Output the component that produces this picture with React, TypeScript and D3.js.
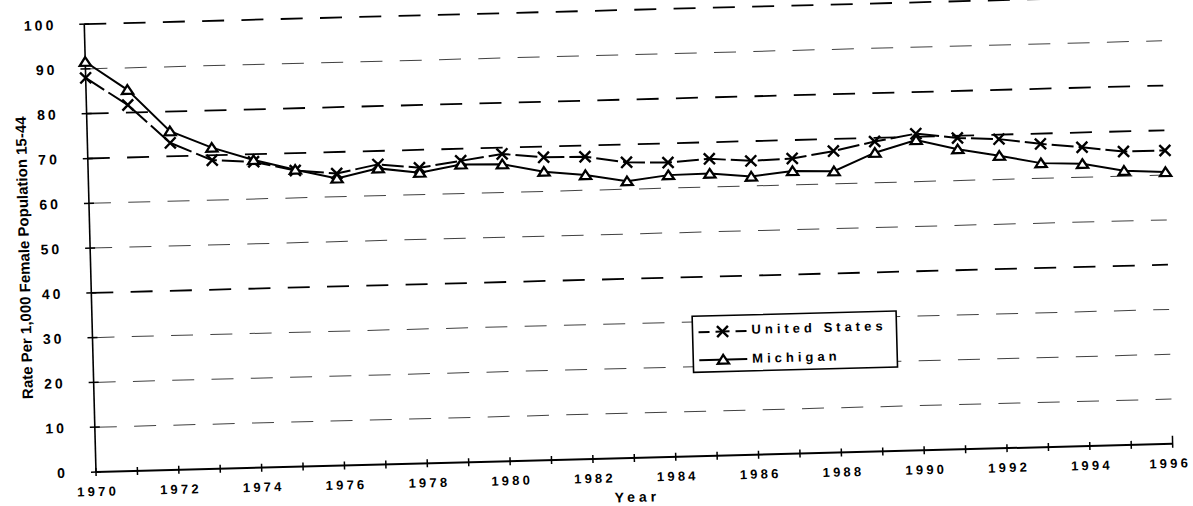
import React from 'react';
import * as d3 from 'd3';

// ---- data ----
const years = [1970, 1971, 1972, 1973, 1974, 1975, 1976, 1977, 1978, 1979, 1980, 1981, 1982, 1983, 1984, 1985, 1986, 1987, 1988, 1989, 1990, 1991, 1992, 1993, 1994, 1995, 1996];
const unitedStates = [88.0, 81.7, 73.0, 68.9, 68.3, 66.1, 65.2, 67.0, 66.0, 67.3, 68.6, 67.6, 67.5, 66.0, 65.7, 66.3, 65.6, 65.9, 67.3, 69.2, 70.7, 69.5, 69.0, 67.7, 66.7, 65.5, 65.5];
const michigan = [91.6, 85.1, 75.6, 71.7, 68.7, 66.3, 64.1, 66.1, 64.9, 66.5, 66.3, 64.4, 63.4, 61.8, 62.9, 63.0, 62.1, 63.1, 62.8, 66.7, 69.3, 67.0, 65.3, 63.4, 63.0, 61.2, 60.7];
const yTickValues = [0, 10, 20, 30, 40, 50, 60, 70, 80, 90, 100];
const xTickLabels = [1970, 1972, 1974, 1976, 1978, 1980, 1982, 1984, 1986, 1988, 1990, 1992, 1994, 1996];
const seriesNames = ['United States', 'Michigan'];
const yAxisTitle = 'Rate Per 1,000 Female Population 15-44';
const xAxisTitle = 'Year';

// ---- layout / style ----
const W = 1193;
const H = 506;
const ORIGIN_X = 96;
const ORIGIN_Y = 472;
const PLOT_W = 1077;
const PLOT_H = 448;
const TILT = -1.5; // scanned page is slightly rotated
const BOLD_GRID = new Set([40, 70, 80, 100]);
const FONT = '"Liberation Sans", Arial, Helvetica, sans-serif';

function XMark({ cx, cy }: { cx: number; cy: number }) {
  const s = 5.5;
  return (
    <path
      d={`M${cx - s},${cy - s}L${cx + s},${cy + s}M${cx - s},${cy + s}L${cx + s},${cy - s}`}
      stroke="#000"
      strokeWidth={2.4}
      fill="none"
    />
  );
}

function TriMark({ cx, cy }: { cx: number; cy: number }) {
  return (
    <path
      d={`M${cx},${cy - 4.6}L${cx + 5.6},${cy + 4}L${cx - 5.6},${cy + 4}Z`}
      stroke="#000"
      strokeWidth={2.3}
      strokeLinejoin="miter"
      fill="#fff"
    />
  );
}

export default function App() {
  const x = d3.scaleLinear().domain([1970, 1996]).range([0, PLOT_W]);
  const y = d3.scaleLinear().domain([0, 100]).range([0, -PLOT_H]);
  const lineGen = d3
    .line<number>()
    .x((_, i) => x(years[i]))
    .y((d) => y(d));

  const legendX = 600;
  const legendY = -140;
  const legendW = 204;
  const legendH = 56;

  return (
    <svg
      width={W}
      height={H}
      viewBox={`0 0 ${W} ${H}`}
      style={{ position: 'absolute', left: 0, top: 0, background: '#fff' }}
    >
      <rect x={0} y={0} width={W} height={H} fill="#fff" />
      <g transform={`translate(${ORIGIN_X},${ORIGIN_Y}) rotate(${TILT})`} fontFamily={FONT}>
        {/* gridlines */}
        {yTickValues
          .filter((v) => v > 0)
          .map((v) => (
            <line
              key={`g${v}`}
              x1={0}
              x2={PLOT_W}
              y1={y(v)}
              y2={y(v)}
              stroke={BOLD_GRID.has(v) ? '#000' : '#222'}
              strokeWidth={BOLD_GRID.has(v) ? 1.8 : 1}
              strokeDasharray="22 17.3"
              opacity={BOLD_GRID.has(v) ? 1 : 0.85}
            />
          ))}

        {/* y axis */}
        <line x1={0} x2={0} y1={0} y2={y(100)} stroke="#000" strokeWidth={1.6} />
        {yTickValues.map((v) => (
          <g key={`yt${v}`}>
            <line x1={-5} x2={5} y1={y(v)} y2={y(v)} stroke="#000" strokeWidth={1.5} />
            <text
              x={-28}
              y={y(v)}
              dy="0.36em"
              textAnchor="end"
              fontSize={14}
              fontWeight="bold"
              letterSpacing={3}
              fill="#000"
            >
              {v}
            </text>
          </g>
        ))}

        {/* x axis */}
        <line x1={0} x2={PLOT_W} y1={0} y2={0} stroke="#000" strokeWidth={2} />
        {years.map((yr) => (
          <line
            key={`xt${yr}`}
            x1={x(yr)}
            x2={x(yr)}
            y1={yr === 1996 ? -8 : -4}
            y2={4}
            stroke="#000"
            strokeWidth={1.5}
          />
        ))}
        {xTickLabels.map((yr, i) => (
          <text
            key={`xl${yr}`}
            x={x(yr)}
            dx={i === xTickLabels.length - 1 ? -3 : 1.6}
            y={24}
            textAnchor="middle"
            fontSize={13}
            fontWeight="bold"
            letterSpacing={3.2}
            fill="#000"
          >
            {yr}
          </text>
        ))}

        {/* axis titles */}
        <text
          x={PLOT_W / 2 + 2}
          y={44}
          textAnchor="middle"
          fontSize={14}
          fontWeight="bold"
          letterSpacing={4}
          fill="#000"
        >
          {xAxisTitle}
        </text>
        <text
          transform={`translate(-61,${-216}) rotate(-90)`}
          textAnchor="middle"
          fontSize={15}
          fontWeight="bold"
          fill="#000"
        >
          {yAxisTitle}
        </text>

        {/* series lines */}
        <path d={lineGen(unitedStates) || ''} fill="none" stroke="#000" strokeWidth={2} strokeDasharray="22 5" />
        <path d={lineGen(michigan) || ''} fill="none" stroke="#000" strokeWidth={2} />

        {/* markers */}
        {unitedStates.map((v, i) => (
          <XMark key={`us${i}`} cx={x(years[i])} cy={y(v)} />
        ))}
        {michigan.map((v, i) => (
          <TriMark key={`mi${i}`} cx={x(years[i])} cy={y(v)} />
        ))}

        {/* legend */}
        <g transform={`translate(${legendX},${legendY})`}>
          <rect x={0} y={0} width={legendW} height={legendH} fill="#fff" stroke="#000" strokeWidth={1.6} />
          <line x1={6} x2={54} y1={16} y2={16} stroke="#000" strokeWidth={2} strokeDasharray="11 6 14 6 11" />
          <XMark cx={30} cy={16} />
          <text x={59} y={19} fontSize={13} fontWeight="bold" letterSpacing={4} fill="#000">
            {seriesNames[0]}
          </text>
          <line x1={6} x2={54} y1={44} y2={44} stroke="#000" strokeWidth={2} />
          <TriMark cx={30} cy={44} />
          <text x={59} y={48} fontSize={13} fontWeight="bold" letterSpacing={4} fill="#000">
            {seriesNames[1]}
          </text>
        </g>
      </g>
    </svg>
  );
}
